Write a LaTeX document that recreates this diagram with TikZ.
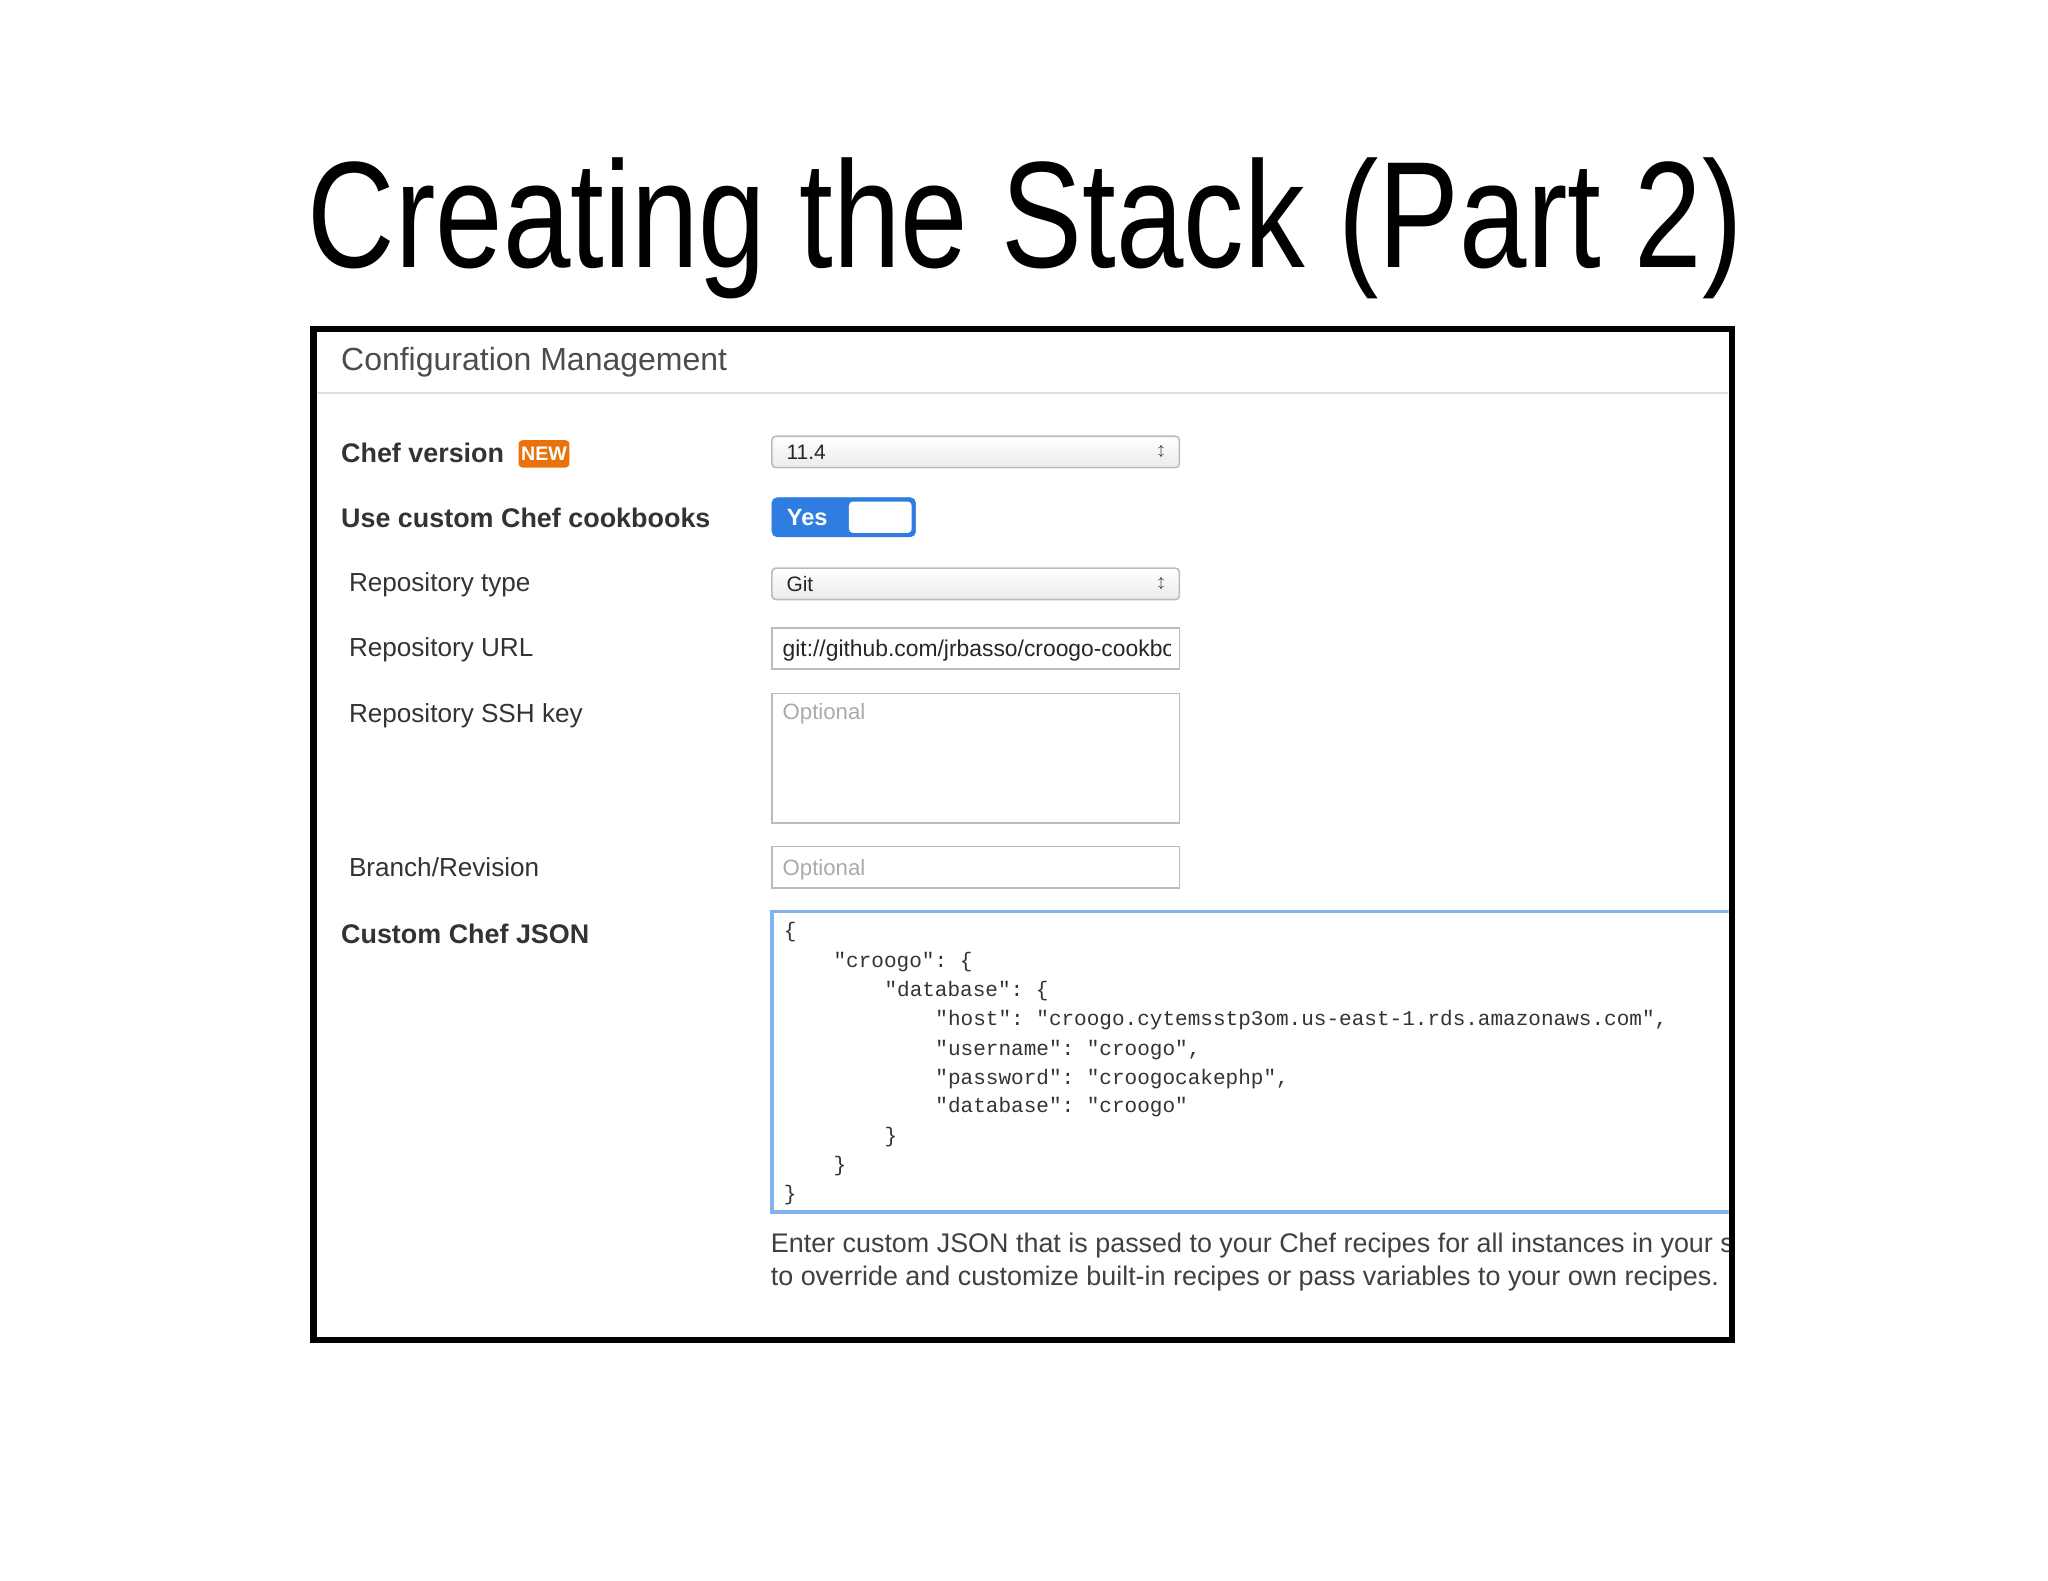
\documentclass[tikz,border=0pt]{standalone}
\usepackage{fontspec}
\setmainfont{Liberation Sans}
\setmonofont{Liberation Mono}
\newfontfamily\titlefont[FakeStretch=0.80]{Liberation Sans}
\definecolor{lbl}{HTML}{333333}
\definecolor{fld}{HTML}{BBBBBB}
\definecolor{ph}{HTML}{AAAAAA}
\definecolor{blu}{HTML}{2F7DE1}
\definecolor{org}{HTML}{E8730C}
\tikzset{
 lab/.style={anchor=base west,inner sep=0,text=lbl,font=\fontsize{20}{24}\selectfont},
 blab/.style={lab,font=\fontsize{20.6}{24}\selectfont\bfseries},
 field/.style={draw=fld,line width=1.2pt,fill=white},
 sel/.style={draw=fld,line width=1.2pt,rounded corners=3pt,top color=white,bottom color=black!8},
 fieldtxt/.style={anchor=base west,inner sep=0,font=\fontsize{16}{19}\selectfont,text=black!85},
 json/.style={anchor=base west,inner sep=0,font=\ttfamily\fontsize{16.1}{18}\selectfont,text=black!80}
}
\begin{document}
\begin{tikzpicture}[x=1pt,y=-1pt]
\useasboundingbox (0,0) rectangle (1568,1210);
\node[anchor=base,inner sep=0,font=\titlefont\fontsize{116}{130}\selectfont] (title) at (785,205) {Creating the Stack (Part 2)};
\draw[line width=5pt] (240,252) rectangle (1326,1026);
\node[lab,font=\fontsize{24.5}{28}\selectfont,text=black!70] (cm) at (261,284) {Configuration Management};
\draw[black!12,line width=1pt] (243,301) -- (1323,301);
% labels
\node[blab] (cv) at (261,354) {Chef version};
\node[fill=org,text=white,rounded corners=3pt,inner sep=2pt,font=\fontsize{15}{17}\selectfont\bfseries,minimum height=21pt] (new) at (416.5,347.5) {NEW};
\node[blab] (uc) at (261,404) {Use custom Chef cookbooks};
\node[lab] (rt) at (267,453) {Repository type};
\node[lab] (ru) at (267,503) {Repository URL};
\node[lab] (rs) at (267,553) {Repository SSH key};
\node[lab] (br) at (267,671) {Branch/Revision};
\node[blab] (cj) at (261,722) {Custom Chef JSON};
% controls
\draw[sel] (591,334) rectangle (903,358);
\node[fieldtxt] (v114) at (602,352) {11.4};
\node[inner sep=0,font=\fontsize{9}{9}\selectfont] (ar1) at (889,346) {$\updownarrow$};
\draw[blu,fill=blu,rounded corners=4pt] (591,381) rectangle (701,411);
\draw[fill=white,draw=none,rounded corners=3pt] (650,384) rectangle (698,408);
\node[text=white,font=\fontsize{18}{20}\selectfont\bfseries,inner sep=0] (yes) at (618,396) {Yes};
\draw[sel] (591,435) rectangle (903,459);
\node[fieldtxt] (git) at (602,453) {Git};
\node[inner sep=0,font=\fontsize{9}{9}\selectfont] (ar2) at (889,447) {$\updownarrow$};
\draw[field] (591,481) rectangle (903,512);
\begin{scope}
\clip (592,482) rectangle (896,511);
\node[fieldtxt,font=\fontsize{17.5}{20}\selectfont] (url) at (599,503) {git://github.com/jrbasso/croogo-cookbook};
\end{scope}
\draw[field] (591,531) rectangle (903,630);
\node[fieldtxt,text=ph,font=\fontsize{17}{20}\selectfont] (o1) at (599,551) {Optional};
\draw[field] (591,648) rectangle (903,680);
\node[fieldtxt,text=ph,font=\fontsize{17}{20}\selectfont] (o2) at (599,670) {Optional};
% json
\begin{scope}
\clip (585,690) rectangle (1323.5,1000);
\draw[blu!60,line width=2.5pt,fill=white] (591,698) rectangle (1340,928);
\node[json] at (600,718) {\{};
\node[json] at (638,741) {"croogo": \{};
\node[json] at (677,763) {"database": \{};
\node[json] at (716,785) {"host": "croogo.cytemsstp3om.us-east-1.rds.amazonaws.com",};
\node[json] at (716,808) {"username": "croogo",};
\node[json] at (716,830) {"password": "croogocakephp",};
\node[json] at (716,852) {"database": "croogo"};
\node[json] at (677,875) {\}};
\node[json] at (638,897) {\}};
\node[json] at (600,919) {\}};
\node[lab,text=black!75,font=\fontsize{20.6}{24}\selectfont] at (590,959) {Enter custom JSON that is passed to your Chef recipes for all instances in your stack. You can use this};
\node[lab,text=black!75,font=\fontsize{20.6}{24}\selectfont] at (590,984) {to override and customize built-in recipes or pass variables to your own recipes.};
\end{scope}
\end{tikzpicture}
\end{document}
